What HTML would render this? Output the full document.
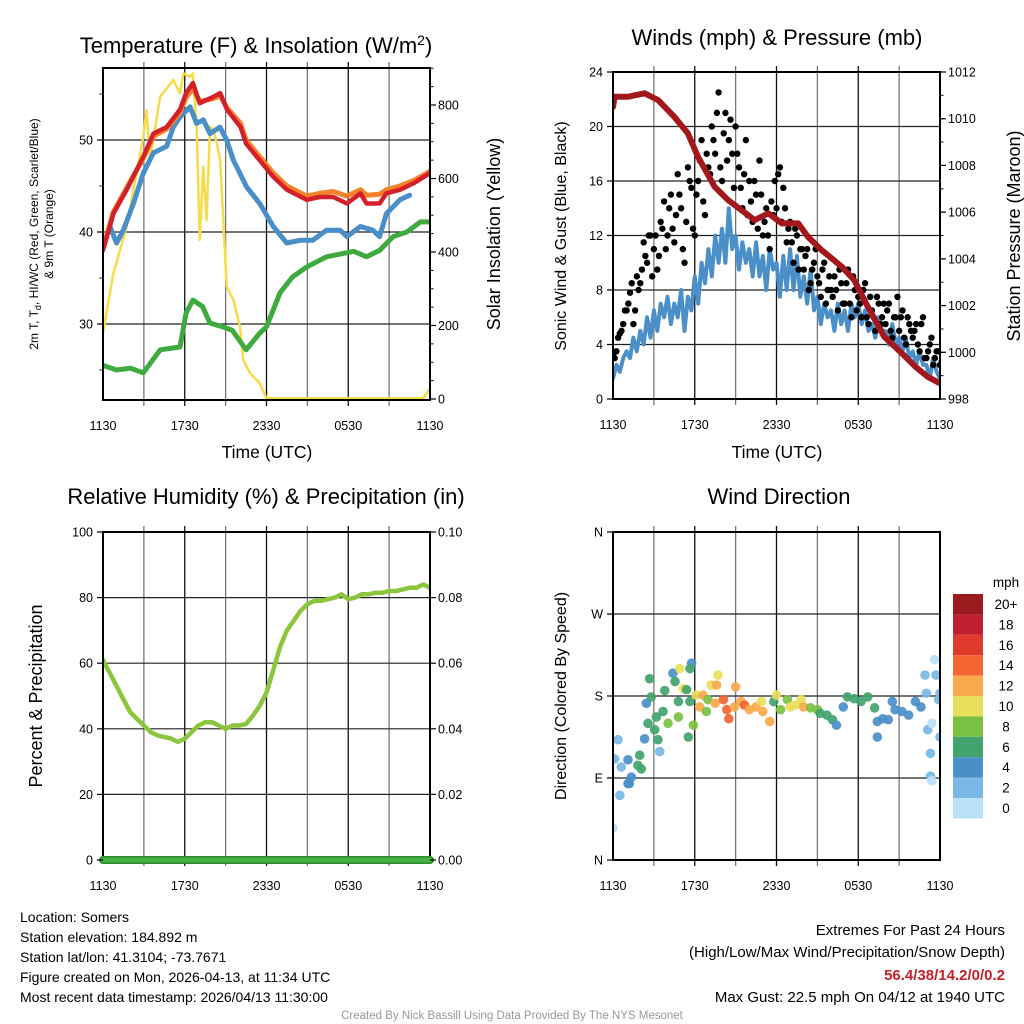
<!DOCTYPE html>
<html><head><meta charset="utf-8"><style>
html,body{margin:0;padding:0;background:#fff;}
svg{display:block;font-family:"Liberation Sans",sans-serif;}
</style></head><body>
<svg id="chart" width="1024" height="1024" viewBox="0 0 1024 1024"></svg>
<script>
// ---------- DATA ----------
const redHours=[0,0.76,1.74,2.96,3.7,4.67,5.65,6.1,6.6,7.1,8.1,8.6,9.1,10.1,10.5,11.5,12.5,13.5,14.95,15.9,16.9,17.9,18.9,19.35,20.3,20.8,21.8,22.8,24];
const redTemp=[38,42,44.6,48.2,50.7,51.4,53.3,55.1,56.2,54,54.7,55.1,53.3,51.4,49.6,47.8,46,44.6,43.5,43.8,43.8,43.1,44.2,43.1,43.1,44.2,44.6,45.3,46.4];
const orangeTemp=[38.2,42.2,44.8,48,50.4,51.2,53,54.6,55.6,54.2,54.5,54.8,53.5,51.8,50,48.2,46.4,45,43.9,44.2,44.4,43.9,44.6,44,44.1,44.6,45,45.6,46.6];
const blueHours=[0.51,1.0,1.49,2.23,2.96,3.7,4.67,5.16,5.65,6.39,6.87,7.36,7.85,8.59,9.08,9.57,10.54,11.5,12.5,13.48,14.46,15.4,16.4,17.4,17.9,18.9,19.8,20.3,20.8,21.8,22.5];
const blueTemp=[40.6,38.8,40.2,43.1,46.4,48.6,49.3,51.4,52.5,53.6,51.8,52.2,50.7,51.4,50,47.8,44.9,43.1,40.6,38.8,39.1,39.1,40.2,40.2,39.5,40.6,40.2,39.5,42,43.5,44];
const greenHours=[0,1,2,2.96,4.2,5.65,6.1,6.6,7.3,7.85,8.8,9.5,10.5,11.5,12,13,13.9,14.95,16.4,18.4,19.35,20.3,21.3,22.3,23.3,24];
const greenTemp=[25.5,25,25.2,24.7,27.2,27.5,31.2,32.6,31.9,30.1,29.7,29.3,27.2,29,29.7,33.4,35.1,36.2,37.3,37.9,37.3,38,39.5,40,41.1,41.1];
const solarHours=[0,0.76,1.74,2.96,3.2,3.45,4.2,5.16,5.65,5.9,6.4,6.6,6.87,7.1,7.36,7.6,7.85,8.1,8.35,8.6,9.08,9.57,10.05,10.3,10.8,11.5,12.0,23.5,24];
const solarVals=[179,342,469,714,786,650,823,868,832,886,877,886,741,433,632,487,741,732,696,650,306,269,197,106,70,43,2,2,29];
const presHours=[0,0.12,1.1,2.32,3.3,4.5,5.5,6.24,7.46,8.44,9.42,10.4,11.4,12.4,13.6,14.3,15.3,16.8,17.7,18.7,19.9,21.2,22.2,23.1,24];
const presVals=[1010.5,1010.94,1010.94,1011.09,1010.8,1010.08,1009.37,1008.37,1007.09,1006.52,1006.09,1005.66,1005.95,1005.52,1005.52,1004.95,1004.38,1003.66,1003.09,1001.95,1000.67,999.96,999.38,998.95,998.67];
const windVals=[1.5,2.5,2,3, 3.5,3,4.5,3.5, 5,4,6,4.5, 6.5,5,7,6, 7.5,5.5,7,6, 8,5,7.5,6.5, 9,7,10,8.5, 11,9,12,10, 12.5,10,14,11, 12,9.5,11.5,10, 11,9,11.5,9, 10.5,8,11,9.5, 10,7.5,10.5,8, 11,8,10.5,7.5, 9,7,9.5,6.5, 7.5,5.5,7,6, 6.5,5,7,5.5, 6.5,5,7,6, 7,5.5,6.5,5, 5.5,4.5,6,5, 5,4,5.5,4, 4.5,3.5,4.5,3, 3.5,2.5,3.5,2.5, 2.5,1.5,3,2, 1.5];
const gustVals=[3.2,3.5,4.8,5.5,6.5,7.8,5.5,9,8.5,11.5,10,12,11,9.5,13,14.5,12,15,11.5,16.5,14,10,17,15.5,12,16,19,13.5,17,20,18,22.5,16,21,19,18,20,17,14,19,16,13,15,17.5,12,14,11,13.5,14,17,15.5,11.5,13,10,12,11,9.5,11,8.5,10,9,7.5,10,8,8,9,6.5,8.5,7,9.5,6,8,7.5,6,8.5,5.5,6.5,5,7,6,5.5,7,4.5,6,5,6.5,4,5.5,4.5,5.5,3.5,6,3,4,2.5,3.5,2.5];
const gustVals2=[3,4.5,5,6.5, 7,8.5,6.5,8, 9.5,10.5,12,9, 12,10.5,12.5,11, 14,12.5,13.5,15, 11,13,16,12.5, 15,17.5,14.5,18, 16.5,19,21,17, 19.5,17.5,20.5,15.5, 18,15.5,16.5,13.5, 14.5,16,12.5,15, 13,12,14.5,16, 16.5,13,14,12.5, 11.5,12.5,9.5,11, 10.5,8,9.5,11, 8.5,9.5,7,9, 7.5,8,9.5,7, 8.5,7,9,6.5, 7,8,6,7.5, 6,7.5,5.5,7, 6.5,5,6,7.5, 6,4.5,6,5, 5,4,5.5,3, 3.5,4.5,3,3.5, 2.8];
const rhHours=[0,0.5,1,1.5,2,2.5,3,3.5,4,4.5,5,5.5,6,6.5,7,7.5,8,8.5,9,9.5,10,10.5,11,11.5,12,12.5,13,13.5,14,14.5,15,15.5,16,16.5,17,17.5,18,18.5,19,19.5,20,20.5,21,21.5,22,22.5,23,23.5,24];
const rhVals=[61,57,53,49,45,43,41,39,38,37.5,37,36,37,39,41,42,42,41,40,41,41,41.5,44,47,51,58,65,70,73,76,78,79,79,79.5,80,81,79.5,80,81,81,81.5,81.5,82,82,82.5,83,83,84,83];
const precipHours=[0,24];
const precipVals=[0,0];
const dirHours=[0,0.5,0.12,0.37,0.61,1.1,1.35,1.1,1.2,1.83,2.08,1.96,2.32,2.57,3.18,3.06,3.43,3.3,2.69,2.45,2.81,3.67,3.8,4.04,4.4,4.55,4.8,4.8,4.9,5.16,5.65,5.4,5.77,5.65,5.9,5.53,6.1,6.36,6.6,6.85,6.97,7.2,7.6,7.7,7.5,8.1,8.35,8.5,9.0,8.9,9.4,9.65,10.0,10.5,10.9,11.0,11.5,11.8,12.0,12.3,12.8,13.0,13.4,13.8,14.0,14.5,15.0,15.2,15.7,16.1,16.4,16.9,17.2,17.7,18.2,18.7,19.2,19.4,19.4,19.8,20.2,20.5,20.7,21.2,21.7,22.2,22.6,22.9,23.0,23.1,23.3,23.4,23.6,23.7,24.0,23.9,23.3,23.4,24.0];
const dirDeg=[35,71,111,132,102,110,91,84,84,104,100,115,133,150,157,143,119,132,199,172,179,163,186,150,205,196,174,157,210,188,174,187,216,210,148,135,181,168,181,163,176,192,192,203,172,176,165,155,190,168,174,170,165,168,174,163,152,174,181,165,176,168,170,176,168,167,165,161,159,154,148,168,179,177,174,179,167,152,135,155,154,174,165,163,159,174,168,203,183,143,117,150,220,203,183,176,92,87,135];
const dirSpeed=[1,2,2,2,3,4,4,4,4,6,6,6,4,6,6,6,3,6,6,4,6,6,7,8,4,6,7,8,10,10,6,6,4,7,8,6,10,12,12,8,8,10,12,10,12,14,15,15,13,12,12,14,12,12,10,12,12,7,10,8,8,10,10,10,12,8,8,7,6,6,4,4,6,6,6,6,6,4,4,4,4,4,4,4,4,4,4,2,2,2,2,1,1,2,2,2,2,1,3];
const legendLabels=["20+","18","16","14","12","10","8","6","4","2","0"];
const timeTicks=["1130","1730","2330","0530","1130"];
const tempTicks=[30,40,50];
const solarTicks=[0,200,400,600,800];
const windTicks=[0,4,8,12,16,20,24];
const presTicks=[998,1000,1002,1004,1006,1008,1010,1012];
const rhTicks=[0,20,40,60,80,100];
const precipTicks=["0.00","0.02","0.04","0.06","0.08","0.10"];
const dirTicks=["N","E","S","W","N"];
// ---------- DRAWING ----------
const NS="http://www.w3.org/2000/svg";
const svg=document.getElementById('chart');
function mk(tag,attrs,parent){const e=document.createElementNS(NS,tag);for(const k in attrs)e.setAttribute(k,attrs[k]);(parent||svg).appendChild(e);return e;}
function txt(s,x,y,size,anchor,parent,extra){const t=mk('text',Object.assign({x:x,y:y,'font-size':size,'text-anchor':anchor||'middle',fill:'#000'},extra||{}),parent);t.textContent=s;return t;}
const speedColors=["#b9e1f7","#7ab8e5","#4a8fc8","#41a46c","#7ac143","#e8e05a","#f9a94a","#f26430","#e03a2c","#be1e2d","#9b1a1e"];
function colorFor(s){return speedColors[Math.min(10,Math.max(0,Math.floor(s/2)))];}

function panel(name,x0,y0,x1,y1,hGridYs){
  const g=mk('g',{});
  
  
  const clip=mk('clipPath',{id:'clip-'+name},g);
  mk('rect',{x:x0,y:y0,width:x1-x0,height:y1-y0},clip);
  for(let i=1;i<8;i++){const x=x0+i*(x1-x0)/8;
    const l=mk('line',{x1:x,y1:y0-6,x2:x,y2:y1+6,stroke:(i%2?'#777':'#111'),'stroke-width':1.3},g);
    
    }
  hGridYs.forEach(y=>{const l=mk('line',{x1:x0,y1:y,x2:x1,y2:y,stroke:'#222','stroke-width':1.2},g);
    
    });
  const dg=mk('g',{'clip-path':'url(#clip-'+name+')'},g);
  return {g:g,dg:dg,x0:x0,x1:x1,y0:y0,y1:y1,xs:h=>x0+h/24*(x1-x0)};
}
function frame(p){const r=mk('rect',{x:p.x0,y:p.y0,width:p.x1-p.x0,height:p.y1-p.y0,fill:'none',stroke:'#000','stroke-width':2},p.g);
  
  
  timeTicks.forEach((t,i)=>{const x=p.x0+i*(p.x1-p.x0)/4;const l=txt(t,x,p.y1+30,12.5,'middle',p.g);
    
    });}
function line(p,hours,vals,ys,color,w,name){
  const d=hours.map((h,i)=>(i?'L':'M')+p.xs(h).toFixed(1)+' '+ys(vals[i]).toFixed(1)).join(' ');
  const e=mk('path',{d:d,fill:'none',stroke:color,'stroke-width':w,'stroke-linejoin':'round','stroke-linecap':'round'},p.dg);
  
  
  return e;}
function yticks(p,vals,ys,side,labels,minorStep,minorRange){
  vals.forEach((v,i)=>{const y=ys(v);const x=side==='l'?p.x0:p.x1;
    mk('line',{x1:x,y1:y,x2:side==='l'?x-6:x+6,y2:y,stroke:'#000','stroke-width':1.2},p.g);
    const t=txt(labels?labels[i]:String(v),side==='l'?x-10:x+8,y+4.5,12.5,side==='l'?'end':'start',p.g);
    
    });
  if(minorStep){for(let v=minorRange[0];v<=minorRange[1]+1e-9;v+=minorStep){const y=ys(v);if(y<p.y0||y>p.y1)continue;const x=side==='l'?p.x0:p.x1;
    mk('line',{x1:x,y1:y,x2:side==='l'?x-3.5:x+3.5,y2:y,stroke:'#000','stroke-width':1},p.g);}}
}
function rotLabel(s,x,y,size,name,parent){const t=txt(s,x,y,size,'middle',parent||svg,{transform:'rotate(-90 '+x+' '+y+')'});
  
  return t;}

// ----- Panel 1: Temperature -----
const yT=v=>140-(v-50)*9.2;
const yI=v=>399-v*0.3675;
const p1=panel('temperature-panel',103,68,430,400,[yT(30),yT(40),yT(50)]);
line(p1,solarHours,solarVals,yI,'#f7dc4a',2.5,'solar-insolation-line');
line(p1,greenHours,greenTemp,yT,'#3faa3f',5,'dewpoint-line');
line(p1,blueHours,blueTemp,yT,'#4a8fc8',5,'heat-index-windchill-line');
line(p1,redHours,orangeTemp,yT,'#f5822a',5,'9m-temperature-line');
line(p1,redHours,redTemp,yT,'#d42028',4.5,'2m-temperature-line');
frame(p1);
yticks(p1,tempTicks,yT,'l',null,5,[25,55]);
yticks(p1,solarTicks,yI,'r',null,50,[0,900]);
let t=txt('Temperature (F) & Insolation (W/m',256,53,22,'middle');


const sup=mk('tspan',{dy:-8,'font-size':14});sup.textContent='2';t.appendChild(sup);
const cl=mk('tspan',{dy:8});cl.textContent=')';t.appendChild(cl);
t=txt('Time (UTC)',267,458,17.5,'middle');


t=rotLabel('',38,234,12,'temperature-y-axis-title');
t.textContent='2m T, T';const sb=mk('tspan',{dy:3,'font-size':9});sb.textContent='d';t.appendChild(sb);
const rest=mk('tspan',{dy:-3});rest.textContent=', HI/WC (Red, Green, Scarlet/Blue)';t.appendChild(rest);
rotLabel('& 9m T (Orange)',53,234,12,'temperature-y-axis-title-line2');
rotLabel('Solar Insolation (Yellow)',500,234,18,'insolation-y-axis-title');

// ----- Panel 2: Winds -----
const yW=v=>399-v/24*327;
const yP=v=>399-(v-998)/14*327;
const p2=panel('winds-panel',613,72,940,399,[yW(4),yW(8),yW(12),yW(16),yW(20)]);
line(p2,windVals.map((v,i)=>i*0.25),windVals,yW,'#4a8fc8',4,'sonic-wind-line');
gustVals.forEach((v,i)=>{const c=mk('circle',{cx:p2.xs(i*0.25),cy:yW(v),r:3.2,fill:'#000'},p2.dg);
  
  });
gustVals2.forEach((v,i)=>{const c=mk('circle',{cx:p2.xs(i*0.25+0.125),cy:yW(v),r:3.2,fill:'#000'},p2.dg);
  
  });
line(p2,presHours,presVals,yP,'#a3181c',6,'station-pressure-line');
frame(p2);
yticks(p2,windTicks,yW,'l',null,null,null);
yticks(p2,presTicks,yP,'r',null,1,[998,1012]);
t=txt('Winds (mph) & Pressure (mb)',777,45,22,'middle');


t=txt('Time (UTC)',777,458,17.5,'middle');


rotLabel('Sonic Wind & Gust (Blue, Black)',566,236,16,'wind-y-axis-title');
rotLabel('Station Pressure (Maroon)',1020,236,18,'pressure-y-axis-title');

// ----- Panel 3: RH -----
const yR=v=>860-v/100*328;
const yPr=v=>860-v/0.1*328;
const p3=panel('humidity-panel',103,532,430,860,[yR(20),yR(40),yR(60),yR(80)]);
line(p3,rhHours,rhVals,yR,'#8cc63f',4.5,'relative-humidity-line');
frame(p3);
line(Object.assign({},p3,{dg:p3.g}),precipHours,precipVals,yPr,'#2e8b2e',8,'precipitation-line-outline');
line(Object.assign({},p3,{dg:p3.g}),precipHours,precipVals,yPr,'#47b347',5,'precipitation-line');
yticks(p3,rhTicks,yR,'l',null,null,null);
yticks(p3,[0,0.02,0.04,0.06,0.08,0.1],yPr,'r',precipTicks,null,null);
t=txt('Relative Humidity (%) & Precipitation (in)',266,504,22,'middle');


rotLabel('Percent & Precipitation',42,696,18,'humidity-y-axis-title');

// ----- Panel 4: Wind Direction -----
const yD=v=>860-v/360*328;
const p4=panel('wind-direction-panel',613,532,940,860,[yD(90),yD(180),yD(270)]);
dirHours.forEach((h,i)=>{const c=mk('circle',{cx:p4.xs(h),cy:yD(dirDeg[i]),r:4.8,fill:colorFor(dirSpeed[i]),opacity:0.92},p4.dg);
  
  });
frame(p4);
yticks(p4,[0,90,180,270,360],yD,'l',dirTicks,null,null);
t=txt('Wind Direction',779,504,22,'middle');


rotLabel('Direction (Colored By Speed)',566,696,16,'direction-y-axis-title');
// legend
const lg=mk('g',{});


t=txt('mph',1006,587,13.5,'middle',lg);
legendLabels.forEach((s,i)=>{const y=594+i*20.4;
  const r=mk('rect',{x:953,y:y,width:30,height:20.4,fill:speedColors[10-i]},lg);
  
  
  const l=txt(s,1006,y+15,13.5,'middle',lg);
  
  });

// ----- Footer -----
const footL=["Location: Somers","Station elevation: 184.892 m","Station lat/lon: 41.3104; -73.7671","Figure created on Mon, 2026-04-13, at 11:34 UTC","Most recent data timestamp: 2026/04/13 11:30:00"];
footL.forEach((s,i)=>{const l=txt(s,20,922+i*20,14,'start');
  
  });
[["Extremes For Past 24 Hours",935,'#000','normal'],["(High/Low/Max Wind/Precipitation/Snow Depth)",957,'#000','normal'],["56.4/38/14.2/0/0.2",980,'#c8202a','bold'],["Max Gust: 22.5 mph On 04/12 at 1940 UTC",1002,'#000','normal']].forEach(a=>{
  const l=txt(a[0],1005,a[1],15,'end',svg,{fill:a[2],'font-weight':a[3]});
  
  });
t=txt('Created By Nick Bassill Using Data Provided By The NYS Mesonet',512,1019,11.5,'middle',svg,{fill:'#999'});


</script>
</body></html>
